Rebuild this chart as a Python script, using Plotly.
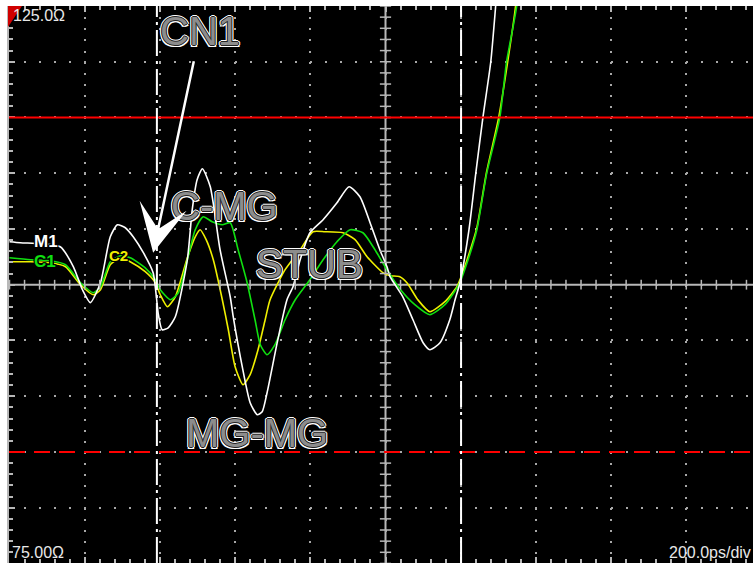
import plotly.graph_objects as go

# ---- TDR impedance traces (time in ps, impedance in ohms) ----
m1_t = [0, 29, 82, 135, 170, 194, 215, 242, 268, 287, 308, 329, 356, 382, 396, 406, 422, 441,
        473, 486, 499, 513, 534, 560, 587, 595, 619, 640, 659, 672, 685, 712, 738, 754, 773,
        799, 834, 871, 903, 932, 959, 985, 1004, 1012, 1046, 1073, 1100, 1118, 1145, 1171,
        1185, 1198, 1222, 1240, 1259, 1280, 1293, 1305]
m1_z = [103.86, 103.77, 103.68, 103.41, 101.61, 99.55, 98.39, 100.18, 104.30, 105.38, 105.11,
        104.30, 102.87, 101.08, 97.31, 95.96, 96.14, 97.13, 102.24, 106.73, 109.42, 110.40,
        108.79, 103.14, 98.92, 97.13, 92.65, 89.42, 88.34, 88.61, 90.31, 94.80, 98.65, 99.82,
        102.24, 104.66, 105.83, 107.35, 108.79, 107.89, 105.56, 103.14, 101.61, 100.72, 98.92,
        96.86, 94.80, 94.17, 94.80, 96.86, 98.65, 100.18, 104.93, 109.96, 114.98, 120.0, 125.0,
        130.0]

c1_t = [0, 56, 109, 149, 189, 223, 242, 268, 295, 321, 361, 388, 401, 428, 449, 473, 494, 515,
        539, 566, 587, 608, 632, 653, 667, 685, 706, 733, 760, 799, 834, 871, 906, 940, 972,
        999, 1038, 1078, 1118, 1158, 1195, 1224, 1243, 1269, 1304, 1322, 1349, 1360]
c1_z = [102.42, 102.24, 102.15, 101.79, 100.18, 99.28, 99.82, 102.06, 102.60, 102.42, 101.52,
        100.45, 99.55, 98.65, 99.28, 102.24, 104.93, 106.10, 105.65, 105.38, 105.56, 103.14,
        100.18, 96.86, 94.62, 93.72, 94.62, 96.86, 98.65, 100.45, 102.24, 103.86, 104.93,
        104.66, 103.14, 101.61, 99.64, 98.21, 97.31, 98.21, 100.0, 102.69, 104.93, 109.96,
        114.98, 120.0, 125.0, 130.0]

c2_t = [0, 56, 109, 149, 189, 223, 242, 268, 295, 321, 361, 388, 401, 420, 441, 473, 494, 507,
        523, 542, 566, 582, 600, 621, 640, 661, 680, 693, 733, 773, 807, 839, 887, 919, 951,
        993, 1012, 1038, 1057, 1086, 1118, 1158, 1190, 1198, 1224, 1243, 1269, 1301, 1325,
        1346, 1357]
c2_z = [102.06, 102.06, 101.97, 101.61, 100.0, 99.10, 99.55, 101.79, 102.42, 102.06, 101.17,
        100.18, 99.10, 98.03, 98.92, 102.42, 104.30, 104.93, 104.04, 102.24, 98.65, 95.96,
        92.65, 91.03, 91.93, 94.17, 96.86, 98.65, 101.35, 103.14, 104.75, 104.75, 104.66,
        104.04, 102.51, 101.08, 100.81, 100.72, 100.18, 98.65, 97.58, 98.48, 99.82, 100.45,
        102.96, 105.11, 110.13, 114.98, 120.0, 125.0, 130.0]

# limit lines and cursor positions
upper_limit = 115.0
lower_limit = 85.0
cursor_times = [392, 1201]

# screen scale settings
ps_per_div = 200
ohm_per_div = 5
z_top, z_bottom = 125.0, 75.0
x_range = [-1.33, 1977.4]
y_range = [75.04, 125.0]

W, H = 753, 563
ML, MT = 9, 6

GRID = "#a8a8a8"
AXIS = "#b8b8b8"
RED = "#ff0000"

fig = go.Figure()

traces = [("C2", c2_t, c2_z, "#f0f000"),
          ("C1", c1_t, c1_z, "#10e010"),
          ("M1", m1_t, m1_z, "#ffffff")]
for name, t, z, col in traces:
    fig.add_trace(go.Scatter(x=t, y=z, mode="lines", name=name,
                             line=dict(color=col, width=1.6, shape="spline", smoothing=0.6),
                             showlegend=False, hoverinfo="skip"))

# tick marks along the centre cross-hair
minor_x = list(range(0, 2000, ps_per_div // 5))
minor_y = [z_bottom + i for i in range(0, int(z_top - z_bottom) + 1)]
fig.add_trace(go.Scatter(x=minor_x, y=[100.0] * len(minor_x), mode="markers",
                         marker=dict(symbol="line-ns", size=7,
                                     line=dict(color=AXIS, width=1.5)),
                         showlegend=False, hoverinfo="skip"))
fig.add_trace(go.Scatter(x=[1000] * len(minor_y), y=minor_y, mode="markers",
                         marker=dict(symbol="line-ew", size=8,
                                     line=dict(color=AXIS, width=1.5)),
                         showlegend=False, hoverinfo="skip"))

shapes = []
# centre cross-hair
shapes.append(dict(type="line", xref="paper", x0=0, x1=1, yref="y", y0=100, y1=100,
                   line=dict(color=AXIS, width=2), layer="below"))
shapes.append(dict(type="line", xref="x", x0=1000, x1=1000, yref="paper", y0=0, y1=1,
                   line=dict(color=AXIS, width=2), layer="below"))
# limit lines
shapes.append(dict(type="line", xref="paper", x0=0, x1=1, yref="y",
                   y0=upper_limit, y1=upper_limit, line=dict(color=RED, width=2)))
shapes.append(dict(type="line", xref="paper", x0=0, x1=1, yref="y",
                   y0=lower_limit, y1=lower_limit,
                   line=dict(color=RED, width=2, dash="16px,9px")))
# cursors
for ct in cursor_times:
    shapes.append(dict(type="line", xref="x", x0=ct, x1=ct, yref="paper", y0=0, y1=1,
                       line=dict(color="#ffffff", width=2, dash="26px,5px,3px,5px")))
# reference-level marker in the corner
pw, ph = W - ML, H - MT
def px(xp, yp):
    return (xp - ML) / pw, (H - yp) / ph
a, b, c = px(8, 6), px(22, 6), px(8, 27)
shapes.append(dict(type="path", xref="paper", yref="paper",
                   path=f"M{a[0]},{a[1]} L{b[0]},{b[1]} L{c[0]},{c[1]} Z",
                   fillcolor="#d00000", line=dict(width=0)))

outline = ("1px 0 0 #222, -1px 0 0 #222, 0 1px 0 #222, 0 -1px 0 #222, "
           "2px 0 0 #fff, -2px 0 0 #fff, 0 2px 0 #fff, 0 -2px 0 #fff, "
           "1.5px 1.5px 0 #fff, -1.5px -1.5px 0 #fff, 1.5px -1.5px 0 #fff, -1.5px 1.5px 0 #fff")
big_font = dict(family="Liberation Sans, Arial, sans-serif", size=40, color="#8c8c8c",
                shadow=outline)
dark_edge = ("1px 0 0 #000, -1px 0 0 #000, 0 1px 0 #000, 0 -1px 0 #000, "
             "1px 1px 0 #000, -1px -1px 0 #000, 1px -1px 0 #000, -1px 1px 0 #000")

annotations = []
for txt, t, z in [("CN1", 507, 122.78), ("C-MG", 573, 107.09),
                  ("STUB", 799, 101.88), ("MG-MG", 658, 86.73)]:
    annotations.append(dict(x=t, y=z, xref="x", yref="y", text=txt, showarrow=False,
                            xanchor="center", yanchor="middle", font=big_font))

# arrow pointing at CN1
annotations.append(dict(x=382, y=102.87, xref="x", yref="y", text="", showarrow=True,
                        ax=41, ay=-193, arrowhead=3, arrowwidth=2.5, arrowsize=3.2,
                        arrowcolor="#ffffff"))

# trace labels
for txt, t, z, col, sz in [("M1", 97, 103.9, "#ffffff", 17), ("C1", 95, 102.1, "#10e010", 17),
                           ("C2", 290, 102.6, "#f0f000", 15)]:
    annotations.append(dict(x=t, y=z, xref="x", yref="y", text=f"<b>{txt}</b>",
                            showarrow=False, xanchor="center", yanchor="middle",
                            font=dict(family="Liberation Sans, Arial, sans-serif", size=sz,
                                      color=col, shadow=dark_edge)))

# scale readouts
small_font = dict(family="Liberation Sans, Arial, sans-serif", size=16, color="#e8e8e8")
tl = px(11, 16)
bl = px(10, 552)
br = px(667, 552)
annotations.append(dict(x=tl[0], y=tl[1], xref="paper", yref="paper", text="125.0Ω",
                        showarrow=False, xanchor="left", yanchor="middle", font=small_font))
annotations.append(dict(x=bl[0], y=bl[1], xref="paper", yref="paper", text="75.00Ω",
                        showarrow=False, xanchor="left", yanchor="middle", font=small_font))
annotations.append(dict(x=br[0], y=br[1], xref="paper", yref="paper", text="200.0ps/div",
                        showarrow=False, xanchor="left", yanchor="middle", font=small_font))

fig.update_layout(
    width=W, height=H,
    margin=dict(l=ML, r=0, t=MT, b=0, pad=0),
    paper_bgcolor="#ffffff",
    plot_bgcolor="#000000",
    shapes=shapes,
    annotations=annotations,
    showlegend=False,
)
fig.update_xaxes(range=x_range, showticklabels=False, zeroline=False,
                 showgrid=True, gridcolor=GRID, gridwidth=2, griddash="2px,9.15px",
                 tick0=0, dtick=ps_per_div, ticks="inside", ticklen=6, tickcolor=AXIS,
                 tickwidth=1.5, mirror="ticks", showline=False,
                 minor=dict(dtick=ps_per_div / 5, ticks="inside", ticklen=4,
                            tickcolor=AXIS, tickwidth=1.5, showgrid=False))
fig.update_yaxes(range=y_range, showticklabels=False, zeroline=False,
                 showgrid=True, gridcolor=GRID, gridwidth=2, griddash="2px,13.04px",
                 tick0=75, dtick=ohm_per_div, ticks="inside", ticklen=6, tickcolor=AXIS,
                 tickwidth=1.5, showline=True, linecolor=AXIS, linewidth=2,
                 minor=dict(dtick=1, ticks="inside", ticklen=4, tickcolor=AXIS,
                            tickwidth=1.5, showgrid=False))

fig.write_html("out.html")
